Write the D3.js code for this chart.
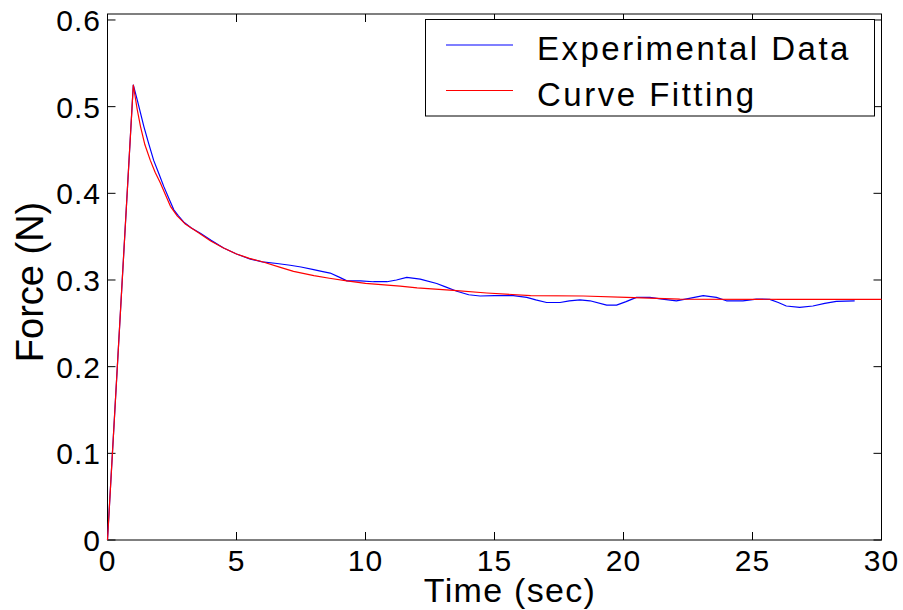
<!DOCTYPE html>
<html lang="en">
<head>
  <meta charset="UTF-8" />
  <title>Force vs Time</title>
  <script src="https://cdn.jsdelivr.net/npm/d3@7/dist/d3.min.js"></script>
  <style>
    html, body { margin: 0; padding: 0; background: #fff; }
    svg { display: block; font-family: "Liberation Sans", Arial, sans-serif; }
  </style>
</head>
<body>
  <div id="chart"></div>
  <script>
    // values
    const expTime = [0, 1, 1.15, 1.41, 1.6, 1.79, 2.0, 2.18, 2.38, 2.57, 2.75, 2.95, 3.25, 3.6, 4.0, 4.5,
      5.0, 5.54, 6.0, 6.57, 7.08, 7.5, 7.99, 8.3, 8.63, 9.0, 9.28, 9.8, 10.31, 10.83, 11.2, 11.6, 12.12,
      12.76, 13.1, 13.54, 14.0, 14.44, 15.0, 15.73, 16.25, 16.6, 17.02, 17.54, 17.9, 18.31, 18.7, 19.35,
      19.73, 20.1, 20.5, 21.02, 21.5, 22.05, 22.6, 23.09, 23.6, 23.99, 24.63, 25.15, 25.67, 26.0, 26.31,
      26.83, 27.34, 27.8, 28.25, 28.96];
    const expForce = [0, 0.525, 0.508, 0.477, 0.457, 0.438, 0.422, 0.408, 0.394, 0.381, 0.374, 0.367, 0.360, 0.354, 0.346, 0.337,
      0.330, 0.324, 0.321, 0.319, 0.317, 0.315, 0.312, 0.310, 0.308, 0.303, 0.299, 0.299, 0.298, 0.298, 0.300, 0.303, 0.301,
      0.296, 0.292, 0.287, 0.283, 0.2815, 0.282, 0.282, 0.280, 0.277, 0.274, 0.274, 0.276, 0.277, 0.276, 0.271,
      0.271, 0.275, 0.280, 0.280, 0.278, 0.276, 0.279, 0.282, 0.280, 0.276, 0.276, 0.278, 0.2777, 0.274, 0.270,
      0.2685, 0.270, 0.273, 0.2754, 0.276];

    const fitTime = [0, 1, 1.15, 1.28, 1.45, 1.66, 1.85, 2.05, 2.25, 2.44, 2.7, 3, 3.5, 4, 4.5, 5, 5.5, 6,
      6.7, 7.21, 8, 8.6, 9.28, 10, 11.34, 12, 13.41, 14.7, 16.4, 18.44, 20.12, 22.18, 26.05, 30];
    const fitForce = [0, 0.525, 0.497, 0.477, 0.456, 0.438, 0.424, 0.412, 0.398, 0.385, 0.374, 0.365, 0.355, 0.345, 0.337, 0.330, 0.325, 0.321,
      0.3146, 0.310, 0.305, 0.302, 0.299, 0.296, 0.293, 0.291, 0.288, 0.285, 0.282, 0.2815, 0.280, 0.278, 0.2777, 0.2777];

    const xTicks = [0, 5, 10, 15, 20, 25, 30];
    const yTicks = [0, 0.1, 0.2, 0.3, 0.4, 0.5, 0.6];
    const seriesNames = ["Experimental Data", "Curve Fitting"];
    const seriesColors = ["#0000ff", "#ff0000"];

    const width = 903, height = 610;
    const plotL = 107.5, plotR = 881.5, plotT = 14, plotB = 540;

    const svg = d3.select("#chart").append("svg")
      .attr("width", width).attr("height", height);

    const x = d3.scaleLinear().domain([0, 30]).range([plotL, plotR]);
    const y = d3.scaleLinear().domain([0, 0.6069]).range([plotB, plotT]);

    // axes box with inward ticks on all sides
    const tickLen = 8;
    const axisG = svg.append("g").attr("stroke", "#000").attr("stroke-width", 1);
    axisG.append("rect")
      .attr("x", plotL).attr("y", plotT)
      .attr("width", plotR - plotL).attr("height", plotB - plotT)
      .attr("fill", "none");

    xTicks.forEach(t => {
      axisG.append("line").attr("x1", x(t)).attr("x2", x(t)).attr("y1", plotB).attr("y2", plotB - tickLen);
      axisG.append("line").attr("x1", x(t)).attr("x2", x(t)).attr("y1", plotT).attr("y2", plotT + tickLen);
    });
    yTicks.forEach(t => {
      axisG.append("line").attr("x1", plotL).attr("x2", plotL + tickLen).attr("y1", y(t)).attr("y2", y(t));
      axisG.append("line").attr("x1", plotR).attr("x2", plotR - tickLen).attr("y1", y(t)).attr("y2", y(t));
    });

    // tick labels
    svg.append("g").selectAll("text")
      .data(xTicks).enter().append("text")
      .attr("x", d => x(d)).attr("y", 571)
      .attr("text-anchor", "middle")
      .attr("font-size", 30).attr("letter-spacing", 1)
      .text(d => d);

    svg.append("g").selectAll("text")
      .data(yTicks).enter().append("text")
      .attr("x", 101).attr("y", d => y(d) + 11)
      .attr("text-anchor", "end")
      .attr("font-size", 30).attr("letter-spacing", 1)
      .text(d => d === 0 ? "0" : d.toFixed(1));

    // axis titles
    svg.append("text")
      .attr("x", 510).attr("y", 602)
      .attr("text-anchor", "middle")
      .attr("font-size", 34).attr("letter-spacing", 1.3)
      .text("Time (sec)");

    svg.append("text")
      .attr("transform", "translate(43,282) rotate(-90)")
      .attr("text-anchor", "middle")
      .attr("font-size", 38)
      .text("Force (N)");

    // lines
    const line = d3.line().x(d => x(d[0])).y(d => y(d[1]));
    const expData = expTime.map((t, i) => [t, expForce[i]]);
    const fitData = fitTime.map((t, i) => [t, fitForce[i]]);

    svg.append("path").datum(expData)
      .attr("d", line).attr("fill", "none")
      .attr("stroke", seriesColors[0]).attr("stroke-width", 1.2)
      .attr("stroke-linejoin", "round");
    svg.append("path").datum(fitData)
      .attr("d", line).attr("fill", "none")
      .attr("stroke", seriesColors[1]).attr("stroke-width", 1.2)
      .attr("stroke-linejoin", "round");

    // legend
    const lg = svg.append("g");
    lg.append("rect")
      .attr("x", 425.5).attr("y", 19.5).attr("width", 449).attr("height", 96.5)
      .attr("fill", "#fff").attr("stroke", "#000").attr("stroke-width", 1);
    const rowY = [45, 90.5];
    seriesNames.forEach((name, i) => {
      lg.append("line")
        .attr("x1", 446).attr("x2", 513).attr("y1", rowY[i]).attr("y2", rowY[i])
        .attr("stroke", seriesColors[i]).attr("stroke-width", 1.2);
      lg.append("text")
        .attr("x", 537).attr("y", rowY[i] + 15)
        .attr("font-size", 33).attr("letter-spacing", 2.5)
        .text(name);
    });
  </script>
</body>
</html>
